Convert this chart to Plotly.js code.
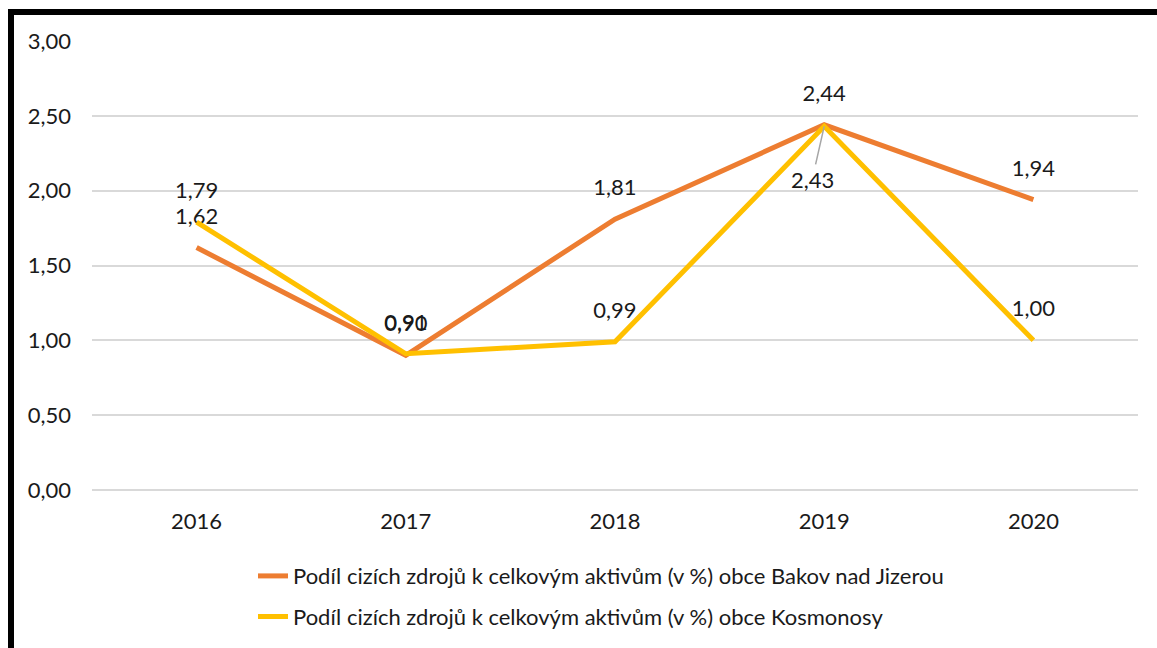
<!DOCTYPE html>
<html>
<head>
<meta charset="utf-8">
<script src="https://cdn.plot.ly/plotly-3.0.1.min.js"></script>
<style>html,body{margin:0;padding:0;background:#fff;}#chart{width:1157px;height:648px;}</style>
</head>
<body>
<div id="chart"></div>
<script>
const years = ["2016", "2017", "2018", "2019", "2020"];
const bakov = [1.62, 0.90, 1.81, 2.44, 1.94];
const kosmonosy = [1.79, 0.91, 0.99, 2.43, 1.00];
const yTicks = [0, 0.5, 1, 1.5, 2, 2.5, 3];
const nameBakov = "Podíl cizích zdrojů k celkovým aktivům (v %) obce Bakov nad Jizerou";
const nameKosmonosy = "Podíl cizích zdrojů k celkovým aktivům (v %) obce Kosmonosy";

const fmt = v => v.toFixed(2).replace('.', ',');
const FONT = "Lato, 'Open Sans', sans-serif";
const FS = 22;
const txtColor = "#1a1a1a";

// Kosmonosy 2019 label is placed below with a leader line
const belowIdx = 3;
const kosText = kosmonosy.map((v, i) => i === belowIdx ? "" : fmt(v));
const hiddenMarker = {size: 28, color: "rgba(0,0,0,0)", line: {width: 0}};

const traces = [
  {
    x: years, y: bakov, name: nameBakov, type: "scatter", mode: "lines+markers+text",
    line: {color: "#ED7D31", width: 5}, marker: hiddenMarker,
    text: bakov.map(fmt), textposition: "top center",
    textfont: {family: FONT, size: FS, color: txtColor},
    legendgroup: "a", cliponaxis: false
  },
  {
    x: years, y: kosmonosy, name: nameKosmonosy, type: "scatter", mode: "lines+markers+text",
    line: {color: "#FFC000", width: 5}, marker: hiddenMarker,
    text: kosText, textposition: "top center",
    textfont: {family: FONT, size: FS, color: txtColor},
    legendgroup: "b", cliponaxis: false
  }
];

const layout = {
  width: 1157, height: 648,
  margin: {l: 92, r: 19, t: 41, b: 158, autoexpand: false},
  paper_bgcolor: "#fff", plot_bgcolor: "#fff",
  font: {family: FONT, size: FS, color: txtColor},
  showlegend: true,
  xaxis: {
    type: "category", range: [-0.5, 4.5],
    showgrid: false, zeroline: false, showline: false,
    ticks: "", ticklabelstandoff: 16,
    tickfont: {family: FONT, size: FS, color: txtColor}
  },
  yaxis: {
    range: [0, 3], tickvals: yTicks, ticktext: yTicks.map(fmt),
    showgrid: true, gridcolor: "#d9d9d9", gridwidth: 2,
    zeroline: true, zerolinecolor: "#d9d9d9", zerolinewidth: 2,
    showline: false, ticks: "", ticklabelstandoff: 20,
    tickfont: {family: FONT, size: FS, color: txtColor}
  },
  legend: {
    orientation: "v", x: (253 - 92) / 1046, xanchor: "left", y: -0.145, yanchor: "top",
    traceorder: "grouped", tracegroupgap: 9,
    font: {family: FONT, size: FS, color: txtColor},
    bgcolor: "rgba(0,0,0,0)"
  },
  annotations: [
    {
      x: belowIdx, y: kosmonosy[belowIdx], xref: "x", yref: "y",
      text: fmt(kosmonosy[belowIdx]), showarrow: true, arrowhead: 0,
      arrowcolor: "#a6a6a6", arrowwidth: 1.5, ax: -12, ay: 53,
      font: {family: FONT, size: FS, color: txtColor}
    }
  ],
  shapes: [
    {type: "line", xref: "paper", yref: "paper",
     x0: (8 - 92) / 1046, x1: (1157 - 92) / 1046, y0: (490 - 12) / 449, y1: (490 - 12) / 449,
     line: {color: "#000", width: 6}},
    {type: "line", xref: "paper", yref: "paper",
     x0: (11 - 92) / 1046, x1: (11 - 92) / 1046, y0: (490 - 9) / 449, y1: (490 - 660) / 449,
     line: {color: "#000", width: 6}}
  ]
};

Plotly.newPlot("chart", traces, layout, {displayModeBar: false, staticPlot: true});
</script>
</body>
</html>
